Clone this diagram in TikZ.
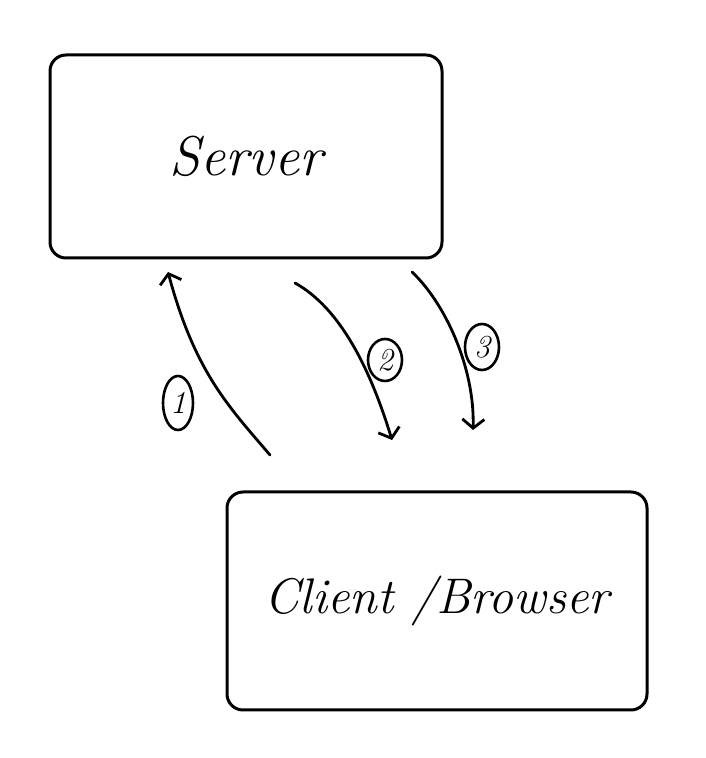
\documentclass[tikz,border=0pt]{standalone}
\usepackage{fontspec}
\setmainfont{Latin Modern Roman}
\usetikzlibrary{shapes.geometric,arrows.meta}
\begin{document}
\begin{tikzpicture}[x=1pt,y=1pt,
  box/.style={draw,line width=3pt,rounded corners=16pt,inner sep=0pt},
  flow/.style={line width=2.8pt,line cap=round,-{Straight Barb[length=9pt,width=22pt,line width=2.8pt]}},
  num/.style={draw,ellipse,line width=2.6pt,inner sep=0pt,font=\itshape\fontsize{32}{36}\selectfont}]
\useasboundingbox (0,0) rectangle (705,758);
\node[box,minimum width=392pt,minimum height=203pt,font=\itshape\fontsize{56}{60}\selectfont] (server) at (246,601.5) {Server};
\node[box,minimum width=420pt,minimum height=218pt,font=\itshape\fontsize{50}{60}\selectfont] (client) at (437,157) {Client /Browser};
% arrow 1
\coordinate (a1s) at (270,303);
\coordinate (a1e) at (168,486);
\draw[flow] (a1s) .. controls (230,350) and (195,385) .. (a1e);
\node[num,minimum width=30pt,minimum height=54pt] (n1) at (178,355) {1};
% arrow 2
\coordinate (a2s) at (295,475);
\coordinate (a2e) at (392,318);
\draw[flow] (a2s) .. controls (340,450) and (370,390) .. (a2e);
\node[num,minimum width=34pt,minimum height=42pt] (n2) at (385,398) {2};
% arrow 3
\coordinate (a3s) at (412,486);
\coordinate (a3e) at (473,328);
\draw[flow] (a3s) .. controls (445,455) and (475,390) .. (a3e);
\node[num,minimum width=34pt,minimum height=46pt] (n3) at (482,411) {3};
\end{tikzpicture}
\end{document}
